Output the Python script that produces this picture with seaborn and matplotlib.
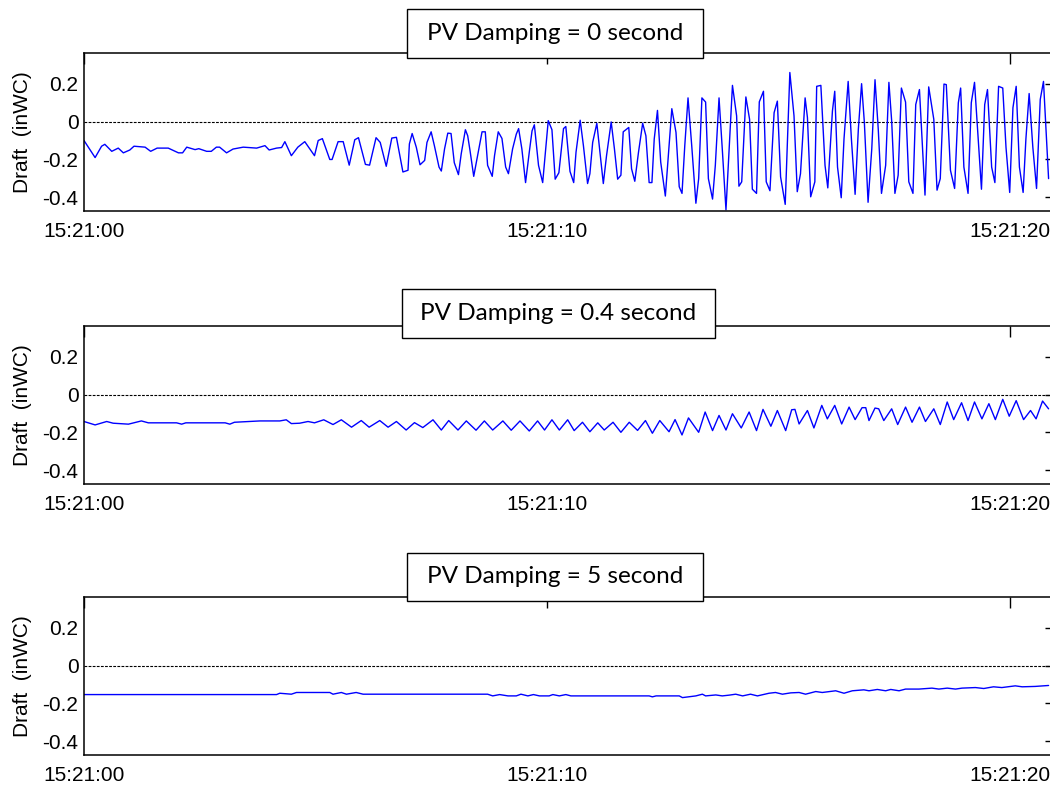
import numpy as np
import pandas as pd
import matplotlib
matplotlib.use("Agg")
import matplotlib.pyplot as plt
import seaborn as sns
from matplotlib.patches import Rectangle

# draft readings (inWC), seconds after 15:21:00
t_damp0 = [0.00, 0.24, 0.38, 0.45, 0.60, 0.74, 0.85, 0.99, 1.08, 1.32, 1.44, 1.58, 1.82, 2.04,
           2.13, 2.22, 2.40, 2.48, 2.65, 2.75, 2.86, 2.93, 3.08, 3.22, 3.44, 3.73, 3.91, 4.00,
           4.16, 4.27, 4.34, 4.48, 4.62, 4.77, 4.98, 5.06, 5.15, 5.31, 5.36, 5.49, 5.60, 5.73,
           5.85, 5.93, 6.08, 6.17, 6.31, 6.40, 6.53, 6.65, 6.75, 6.89, 7.00, 7.03,
           7.09, 7.18, 7.26, 7.36, 7.41, 7.50, 7.57, 7.67, 7.72, 7.79, 7.86, 7.93, 8.00, 8.09,
           8.15, 8.24, 8.29, 8.34, 8.42, 8.51, 8.60, 8.67, 8.72, 8.82, 8.87, 8.95, 9.03, 9.11,
           9.17, 9.26, 9.34, 9.39, 9.46, 9.54, 9.62, 9.68, 9.73, 9.82, 9.91, 10.03, 10.11, 10.18,
           10.26, 10.36, 10.41, 10.50, 10.58, 10.63, 10.72, 10.79, 10.88, 10.93, 10.99, 11.08,
           11.15, 11.22, 11.29, 11.39, 11.46, 11.53, 11.60, 11.65, 11.77, 11.83, 11.90, 11.98,
           12.07, 12.14, 12.21, 12.27, 12.32, 12.39, 12.46, 12.56, 12.63, 12.70, 12.79, 12.86,
           12.92, 12.98, 13.05, 13.13, 13.22, 13.28, 13.35, 13.43, 13.49, 13.58, 13.64, 13.72,
           13.79, 13.87,
           14.01, 14.10, 14.15, 14.21, 14.30, 14.38, 14.44, 14.53, 14.59, 14.68, 14.74, 14.82,
           14.91, 14.98, 15.05, 15.15, 15.25, 15.34, 15.41, 15.48, 15.58, 15.63, 15.70, 15.79,
           15.83, 15.92, 16.01, 16.07, 16.17, 16.22, 16.28, 16.36, 16.42, 16.51, 16.58, 16.66,
           16.73, 16.80, 16.86, 16.94, 17.02, 17.09, 17.16, 17.23, 17.32, 17.39, 17.45, 17.52,
           17.59, 17.66, 17.75, 17.82, 17.91, 17.97, 18.05, 18.17, 18.25, 18.36, 18.43, 18.50,
           18.58, 18.63, 18.72, 18.81, 18.89, 18.94, 19.01, 19.10, 19.17, 19.24, 19.31, 19.39,
           19.46, 19.52, 19.61, 19.68, 19.76, 19.85, 19.92, 20.00, 20.07, 20.14, 20.21, 20.29,
           20.35, 20.42, 20.50, 20.58, 20.66, 20.73, 20.81, 20.84]
v_damp0 = [-0.100, -0.190, -0.130, -0.120, -0.157, -0.140, -0.165, -0.150, -0.130, -0.135,
           -0.157, -0.140, -0.140, -0.165, -0.165, -0.135, -0.148, -0.143, -0.157, -0.157,
           -0.135, -0.135, -0.165, -0.145, -0.135, -0.140, -0.127, -0.150, -0.140, -0.137,
           -0.106, -0.180, -0.135, -0.106, -0.180, -0.100, -0.090, -0.200, -0.200, -0.106,
           -0.106, -0.230, -0.096, -0.085, -0.226, -0.230, -0.085, -0.110, -0.236, -0.087,
           -0.083, -0.266, -0.257, -0.118,
           -0.063, -0.136, -0.228, -0.205, -0.110, -0.054, -0.127, -0.240, -0.261, -0.144,
           -0.061, -0.063, -0.217, -0.280, -0.170, -0.043, -0.075, -0.153, -0.289, -0.170,
           -0.054, -0.054, -0.231, -0.289, -0.179, -0.054, -0.089, -0.240, -0.275, -0.144,
           -0.066, -0.037, -0.144, -0.322, -0.162, -0.049, -0.017, -0.231, -0.322, 0.005,
           -0.043, -0.304, -0.270, -0.037, -0.026, -0.263, -0.322, -0.162, 0.007, -0.127,
           -0.327, -0.275, -0.110, -0.009, -0.170, -0.327, -0.179, -0.002, -0.144, -0.304,
           -0.283, -0.054, -0.031, -0.249, -0.315, -0.162, -0.009, -0.075, -0.322, -0.322,
           -0.092, 0.059, -0.214, -0.393, -0.162, 0.068, -0.057, -0.344, -0.379, -0.127,
           0.125, -0.127, -0.431, -0.301, 0.125, 0.103, -0.301, -0.409, -0.231, 0.125,
           -0.144, -0.466,
           0.191, 0.030, -0.341, -0.318, 0.130, 0.012, -0.357, -0.379, 0.104, 0.160,
           -0.318, -0.365, 0.047, 0.108, -0.292, -0.437, 0.259, 0.030, -0.370, -0.275,
           0.125, 0.021, -0.397, -0.318, 0.186, 0.191, -0.231, -0.350, 0.056, 0.160,
           -0.240, -0.402, -0.092, 0.212, -0.092, -0.384, -0.040, 0.200, -0.005, -0.426,
           -0.144, 0.221, -0.040, -0.379, -0.231, 0.207, 0.003, -0.379, -0.283, 0.177,
           0.103, -0.318, -0.379, 0.090, 0.169, -0.388, 0.183, 0.012, -0.362, -0.301,
           0.198, 0.195, -0.257, -0.353, 0.099, 0.177, -0.240, -0.379, 0.099, 0.207,
           -0.057, -0.357, 0.090, 0.169, -0.240, -0.322, 0.186, 0.177, -0.136, -0.374,
           0.073, 0.186, -0.240, -0.374, -0.092, 0.148, -0.136, -0.353, 0.117, 0.212,
           -0.162, -0.301]

t_damp04 = [0.00, 0.24, 0.49, 0.63, 0.96, 1.24, 1.39, 2.00, 2.11, 2.20, 3.05, 3.15, 3.25, 3.80,
            4.23, 4.37, 4.48, 4.66, 4.84, 4.98, 5.18, 5.38, 5.56, 5.78, 5.99, 6.16, 6.39, 6.57,
            6.75, 6.96, 7.14, 7.32, 7.54, 7.72, 7.88, 8.08, 8.26, 8.47, 8.65, 8.83, 9.05, 9.23,
            9.42, 9.62, 9.80, 9.95, 10.11, 10.27, 10.45,
            10.59, 10.77, 10.93, 11.10, 11.24, 11.43, 11.60, 11.78, 11.96, 12.13, 12.28, 12.44,
            12.64, 12.77, 12.92, 13.06, 13.28, 13.42, 13.58, 13.72, 13.87, 14.01, 14.20, 14.37,
            14.53, 14.67, 14.84, 14.98, 15.16, 15.29, 15.36, 15.45, 15.63, 15.77, 15.94, 16.06,
            16.22, 16.37, 16.53, 16.66, 16.81, 16.89, 16.96, 17.09, 17.17, 17.28, 17.45, 17.58,
            17.75, 17.89, 18.05, 18.18, 18.36, 18.50, 18.65, 18.79, 18.96, 19.10, 19.24, 19.40,
            19.55, 19.69, 19.85, 19.99, 20.14, 20.30, 20.45, 20.57, 20.71, 20.84]
v_damp04 = [-0.142, -0.160, -0.142, -0.151, -0.156, -0.139, -0.149, -0.149, -0.156, -0.149,
            -0.149, -0.156, -0.146, -0.139, -0.139, -0.133, -0.153, -0.151, -0.142, -0.149,
            -0.133, -0.158, -0.133, -0.172, -0.137, -0.172, -0.137, -0.172, -0.142, -0.187,
            -0.148, -0.174, -0.133, -0.187, -0.137, -0.187, -0.139, -0.188, -0.139, -0.187,
            -0.139, -0.188, -0.139, -0.192, -0.139, -0.187, -0.133, -0.187, -0.133,
            -0.190, -0.146, -0.196, -0.149, -0.187, -0.146, -0.199, -0.146, -0.189, -0.137,
            -0.204, -0.137, -0.196, -0.132, -0.213, -0.123, -0.199, -0.092, -0.190, -0.110,
            -0.187, -0.101, -0.176, -0.092, -0.190, -0.078, -0.167, -0.084, -0.190, -0.080,
            -0.078, -0.155, -0.084, -0.176, -0.057, -0.128, -0.057, -0.155, -0.066, -0.132,
            -0.069, -0.069, -0.137, -0.071, -0.075, -0.137, -0.075, -0.158, -0.066, -0.146,
            -0.066, -0.142, -0.075, -0.158, -0.039, -0.132, -0.043, -0.137, -0.039, -0.128,
            -0.048, -0.132, -0.025, -0.114, -0.032, -0.132, -0.084, -0.128, -0.034, -0.075]

t_damp5 = [0.00, 4.16, 4.23, 4.48, 4.59, 5.31, 5.38, 5.56, 5.67, 5.88, 6.03, 8.72, 8.83, 8.98,
           9.16, 9.34, 9.44, 9.59, 9.71, 9.84, 10.05, 10.13, 10.27, 10.41, 10.52, 12.21, 12.28,
           12.36, 12.86, 12.93, 13.22, 13.36, 13.43, 13.65, 13.79, 13.94, 14.08, 14.23, 14.40,
           14.55, 14.80, 14.94, 15.09, 15.27, 15.45, 15.59, 15.81, 15.95, 16.24, 16.42, 16.60,
           16.85, 16.96, 17.14, 17.32, 17.43, 17.61, 17.75, 18.04, 18.32, 18.47, 18.65, 18.83,
           18.97, 19.26, 19.44, 19.65, 19.83, 20.12, 20.27, 20.55, 20.84]
v_damp5 = [-0.153, -0.153, -0.146, -0.151, -0.142, -0.142, -0.151, -0.142, -0.151, -0.142,
           -0.151, -0.151, -0.160, -0.153, -0.160, -0.160, -0.151, -0.160, -0.153, -0.160,
           -0.160, -0.153, -0.160, -0.153, -0.160, -0.160, -0.165, -0.160, -0.160, -0.169,
           -0.160, -0.151, -0.160, -0.155, -0.160, -0.156, -0.151, -0.160, -0.151, -0.160,
           -0.146, -0.142, -0.151, -0.144, -0.142, -0.151, -0.137, -0.142, -0.133, -0.146,
           -0.133, -0.128, -0.133, -0.126, -0.133, -0.126, -0.133, -0.124, -0.124, -0.119,
           -0.124, -0.119, -0.124, -0.119, -0.116, -0.121, -0.112, -0.116, -0.107, -0.112,
           -0.110, -0.105]

titles = ["PV Damping = 0 second", "PV Damping = 0.4 second", "PV Damping = 5 second"]
xticks = [0, 10, 20]
xticklabels = ["15:21:00", "15:21:10", "15:21:20"]
yticks = [-0.4, -0.2, 0, 0.2]
yticklabels = ["-0.4", "-0.2", "0", "0.2"]

sns.set_style("white")
plt.rcParams["font.family"] = ["Liberation Sans", "DejaVu Sans"]
plt.rcParams["axes.unicode_minus"] = False
plt.rcParams["text.color"] = "black"
plt.rcParams["axes.labelcolor"] = "black"

fig = plt.figure(figsize=(10.5, 7.85), dpi=100)

series = [(t_damp0, v_damp0), (t_damp04, v_damp04), (t_damp5, v_damp5)]
bottoms = [0.7312, 0.3834, 0.0382]
# title box placement (axes fraction): x0, y0, width, height
boxes = [(0.3323, 0.968, 0.3045, 0.310),
         (0.3270, 0.924, 0.3220, 0.310),
         (0.3323, 0.975, 0.3045, 0.304)]

for (t, v), b, title, box in zip(series, bottoms, titles, boxes):
    ax = fig.add_axes([0.08, b, 0.9257, 0.2013])
    df = pd.DataFrame({"t": t, "draft": v})
    sns.lineplot(data=df, x="t", y="draft", ax=ax, color="#0000ff",
                 linewidth=1.0, estimator=None, sort=False)
    ax.axhline(0, color="black", linewidth=0.8, linestyle=(0, (2.5, 1.2)), zorder=1)

    ax.set_xlim(0, 21.0)
    ax.set_ylim(-0.472, 0.362)
    ax.set_xticks(xticks)
    ax.set_xticklabels(xticklabels)
    ax.set_yticks(yticks)
    ax.set_yticklabels(yticklabels)
    ax.set_xlabel("")
    ax.set_ylabel("Draft  (inWC)", fontsize=15, color="black")
    ax.yaxis.set_label_coords(-0.054, 0.5)
    ax.tick_params(direction="in", length=8, width=1.0, top=True, right=True,
                   labelsize=15, colors="black")
    ax.tick_params(axis="x", pad=8)
    ax.tick_params(axis="y", pad=4)
    for sp in ax.spines.values():
        sp.set_linewidth(1.1)
        sp.set_color("black")

    x0, y0, w, h = box
    ax.add_patch(Rectangle((x0, y0), w, h, transform=ax.transAxes, clip_on=False,
                           facecolor="white", edgecolor="black", linewidth=1.0, zorder=5))
    ax.text(x0 + w / 2, y0 + h / 2, title, transform=ax.transAxes, ha="center",
            va="center", fontsize=17.5, color="black",
            family=["Lato", "DejaVu Sans"], zorder=6)

fig.savefig("out.png", dpi=100)
